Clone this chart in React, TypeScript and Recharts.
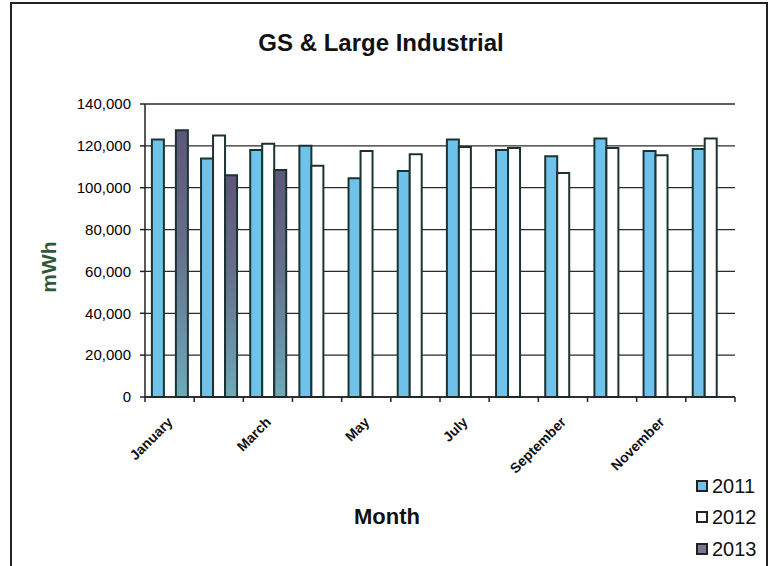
import React from 'react';
import { BarChart, Bar, XAxis, YAxis, CartesianGrid, Legend } from 'recharts';

const months = ['January', 'February', 'March', 'April', 'May', 'June', 'July', 'August', 'September', 'October', 'November', 'December'];
const values2011 = [123000, 114000, 118000, 120000, 104500, 108000, 123000, 118000, 115000, 123500, 117500, 118500];
const values2012 = [null, 125000, 121000, 110500, 117500, 116000, 119500, 119000, 107000, 119000, 115500, 123500];
const values2013 = [127500, 106000, 108500, null, null, null, null, null, null, null, null, null];
const yTicks = [0, 20000, 40000, 60000, 80000, 100000, 120000, 140000];
const seriesNames = ['2011', '2012', '2013'];
const swatchColors = ['#6fc3ea', '#ffffff', '#7a7591'];

const data = months.map((m, i) => ({
  month: m,
  y2011: values2011[i],
  y2012: values2012[i],
  y2013: values2013[i],
}));

const FONT = '"Liberation Sans", Arial, sans-serif';
const BAR_STROKE = '#1c3333';

const MonthTick = (props: any) => {
  const { x, y, payload, index } = props;
  const half = payload && typeof payload.offset === 'number' && payload.offset > 0 ? payload.offset : 590 / 24;
  const showLabel = index % 2 === 0;
  const lx = x + 4;
  const ly = y + 21;
  return (
    <g>
      <line x1={x - half} y1={y - 5} x2={x - half} y2={y} stroke="#222" strokeWidth={1.5} />
      {index === months.length - 1 && (
        <line x1={x + half} y1={y - 5} x2={x + half} y2={y} stroke="#222" strokeWidth={1.5} />
      )}
      {showLabel && (
        <text
          x={lx}
          y={ly}
          transform={`rotate(-45, ${lx}, ${ly})`}
          textAnchor="end"
          fontSize={14}
          fontWeight="bold"
          fontFamily={FONT}
          fill="#111"
        >
          {payload.value}
        </text>
      )}
    </g>
  );
};

const LegendContent = () => (
  <div style={{ fontFamily: FONT }}>
    {seriesNames.map((name, i) => (
      <div key={name} style={{ display: 'flex', alignItems: 'center', height: 31.5 }}>
        <div
          style={{
            width: 8,
            height: 8,
            border: '2px solid #222',
            background: swatchColors[i],
            marginRight: 4,
            boxSizing: 'content-box',
          }}
        />
        <span style={{ fontSize: 20, color: '#111', lineHeight: 1 }}>{name}</span>
      </div>
    ))}
  </div>
);

export default function App() {
  return (
    <div
      style={{
        position: 'fixed',
        left: 0,
        top: 0,
        width: 775,
        height: 566,
        overflow: 'hidden',
        background: '#ffffff',
        fontFamily: FONT,
      }}
    >
      <div
        style={{
          position: 'absolute',
          left: 10,
          top: 2,
          width: 754,
          height: 620,
          border: '2px solid #222',
        }}
      />
      <div
        style={{
          position: 'absolute',
          left: 0,
          width: 762,
          top: 31.4,
          textAlign: 'center',
          fontSize: 24,
          lineHeight: 1,
          fontWeight: 'bold',
          color: '#111',
          whiteSpace: 'nowrap',
        }}
      >
        GS &amp; Large Industrial
      </div>
      <div
        style={{
          position: 'absolute',
          left: 48,
          top: 267,
          transform: 'translate(-50%, -50%) rotate(-90deg)',
          fontSize: 21,
          lineHeight: 1,
          fontWeight: 'bold',
          color: '#2e5a3c',
          whiteSpace: 'nowrap',
        }}
      >
        mWh
      </div>
      <div
        style={{
          position: 'absolute',
          left: 287,
          width: 200,
          top: 506.4,
          textAlign: 'center',
          fontSize: 22,
          lineHeight: 1,
          fontWeight: 'bold',
          color: '#111',
        }}
      >
        Month
      </div>
      <div style={{ position: 'absolute', left: 0, top: 0 }}>
        <BarChart
          width={775}
          height={566}
          data={data}
          margin={{ top: 104, right: 40, bottom: 89, left: 45 }}
          barCategoryGap="14%"
          barGap={0}
        >
          <defs>
            <linearGradient id="grad2013" x1="0" y1="0" x2="0" y2="1">
              <stop offset="0%" stopColor="#5f5677" />
              <stop offset="45%" stopColor="#66708c" />
              <stop offset="100%" stopColor="#6eaab9" />
            </linearGradient>
          </defs>
          <CartesianGrid yAxisId="left" vertical={false} stroke="#2a2a2a" strokeWidth={1.3} />
          <XAxis
            dataKey="month"
            interval={0}
            height={80}
            tickSize={5}
            tickMargin={0}
            tickLine={false}
            axisLine={{ stroke: '#222', strokeWidth: 1.5 }}
            tick={<MonthTick />}
          />
          <YAxis
            yAxisId="left"
            width={100}
            domain={[0, 140000]}
            ticks={yTicks}
            interval={0}
            tickSize={5}
            tickMargin={9}
            fontSize={15}
            tickLine={{ stroke: '#222', strokeWidth: 1.5 }}
            axisLine={{ stroke: '#222', strokeWidth: 1.5 }}
            tickFormatter={(v: number) => v.toLocaleString('en-US')}
            tick={{ fontSize: 15, fill: '#000', fontFamily: FONT }}
          />
          <YAxis
            yAxisId="right"
            orientation="right"
            width={0}
            domain={[0, 140000]}
            ticks={yTicks}
            tick={false}
            tickLine={false}
            axisLine={{ stroke: '#222', strokeWidth: 1.5 }}
          />
          <Legend
            layout="vertical"
            align="center"
            verticalAlign="middle"
            wrapperStyle={{ left: 696, top: 470, width: 80, height: 100 }}
            content={<LegendContent />}
          />
          <Bar yAxisId="left" dataKey="y2011" name="2011" fill="#6fc3ea" stroke={BAR_STROKE} strokeWidth={2} isAnimationActive={false} />
          <Bar yAxisId="left" dataKey="y2012" name="2012" fill="#ffffff" stroke={BAR_STROKE} strokeWidth={2} isAnimationActive={false} />
          <Bar yAxisId="left" dataKey="y2013" name="2013" fill="url(#grad2013)" stroke={BAR_STROKE} strokeWidth={2} isAnimationActive={false} />
        </BarChart>
      </div>
    </div>
  );
}
